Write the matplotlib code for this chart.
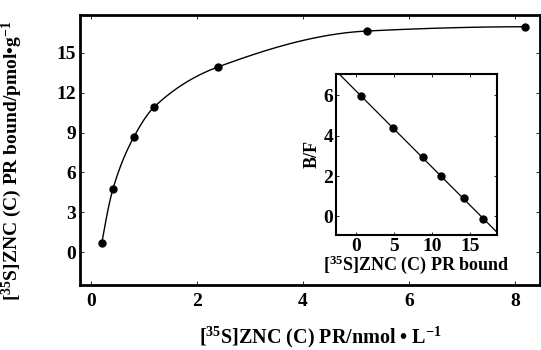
import numpy as np
import matplotlib
matplotlib.use("Agg")
import matplotlib.pyplot as plt

plt.rcParams['font.family'] = ['Liberation Serif', 'DejaVu Serif']
plt.rcParams['font.weight'] = 'bold'
plt.rcParams['mathtext.fontset'] = 'custom'
plt.rcParams['mathtext.rm'] = 'Liberation Serif:bold'
plt.rcParams['mathtext.it'] = 'Liberation Serif:bold'
plt.rcParams['mathtext.bf'] = 'Liberation Serif:bold'

# saturation curve data
free_conc = [0.2, 0.41, 0.8, 1.19, 2.39, 5.21, 8.18]
bound = [0.68, 4.75, 8.63, 10.93, 13.93, 16.64, 16.96]

# Scatchard plot data (inset)
sc_bound = [0.65, 4.8, 8.8, 11.1, 14.1, 16.7]
sc_bf = [5.95, 4.4, 2.95, 2.0, 0.9, -0.15]


def pchip(x, y, xs):
    # monotone cubic interpolation through the points
    x = np.asarray(x, float)
    y = np.asarray(y, float)
    h = np.diff(x)
    d = np.diff(y) / h
    n = len(x)
    m = np.zeros(n)
    for k in range(1, n - 1):
        if d[k - 1] * d[k] > 0:
            w1 = 2 * h[k] + h[k - 1]
            w2 = h[k] + 2 * h[k - 1]
            m[k] = (w1 + w2) / (w1 / d[k - 1] + w2 / d[k])
    m[0] = ((2 * h[0] + h[1]) * d[0] - h[0] * d[1]) / (h[0] + h[1])
    if np.sign(m[0]) != np.sign(d[0]):
        m[0] = 0
    m[-1] = ((2 * h[-1] + h[-2]) * d[-1] - h[-1] * d[-2]) / (h[-1] + h[-2])
    if np.sign(m[-1]) != np.sign(d[-1]):
        m[-1] = 0
    idx = np.clip(np.searchsorted(x, xs) - 1, 0, n - 2)
    t = (xs - x[idx]) / h[idx]
    h00 = 2 * t**3 - 3 * t**2 + 1
    h10 = t**3 - 2 * t**2 + t
    h01 = -2 * t**3 + 3 * t**2
    h11 = t**3 - t**2
    return (h00 * y[idx] + h10 * h[idx] * m[idx]
            + h01 * y[idx + 1] + h11 * h[idx] * m[idx + 1])


fig = plt.figure(figsize=(5.41, 3.5), dpi=100)
ax = fig.add_axes([0.148, 0.186, 0.850, 0.771])

xs = np.linspace(free_conc[0], free_conc[-1], 400)
ax.plot(xs, pchip(free_conc, bound, xs), color='black', lw=1.0)
ax.plot(free_conc, bound, 'o', color='black', ms=5)

ax.set_xlim(-0.21, 8.47)
ax.set_ylim(-2.46, 17.84)
ax.set_xticks([0, 2, 4, 6, 8])
ax.set_yticks([0, 3, 6, 9, 12, 15])
ax.tick_params(direction='in', length=3, width=0.6, labelsize=14,
               top=True, right=True, pad=3)
ax.tick_params(axis='x', pad=6)
for s in ax.spines.values():
    s.set_linewidth(2)
ax.set_xlabel('[$^{35}$S]ZNC (C) PR/nmol \u2022 L$^{-1}$', fontsize=14.5,
              fontweight='bold')
ax.xaxis.set_label_coords(0.522, -0.148)
ax.set_ylabel('[$^{35}$S]ZNC (C) PR bound/pmol\u2022g$^{-1}$', fontsize=14,
              fontweight='bold')
ax.yaxis.set_label_coords(-0.122, 0.46)

# inset
axi = fig.add_axes([0.621, 0.329, 0.298, 0.46])
slope, icpt = np.polyfit(sc_bound, sc_bf, 1)
lx = np.array([-2.6, 18.5])
axi.plot(lx, slope * lx + icpt, color='black', lw=0.9)
axi.plot(sc_bound, sc_bf, 'o', color='black', ms=5)
axi.set_xlim(-2.6, 18.5)
axi.set_ylim(-0.91, 7.06)
axi.set_xticks([0, 5, 10, 15])
axi.set_yticks([0, 2, 4, 6])
axi.tick_params(direction='in', length=2.5, width=0.6, labelsize=14,
                top=True, right=True, pad=2)
for s in axi.spines.values():
    s.set_linewidth(1.5)
axi.set_xlabel('[$^{35}$S]ZNC (C) PR bound', fontsize=13,
               fontweight='bold', labelpad=-1)
axi.set_ylabel('B/F', fontsize=13, fontweight='bold', labelpad=2)

fig.savefig('out.png', dpi=100)
